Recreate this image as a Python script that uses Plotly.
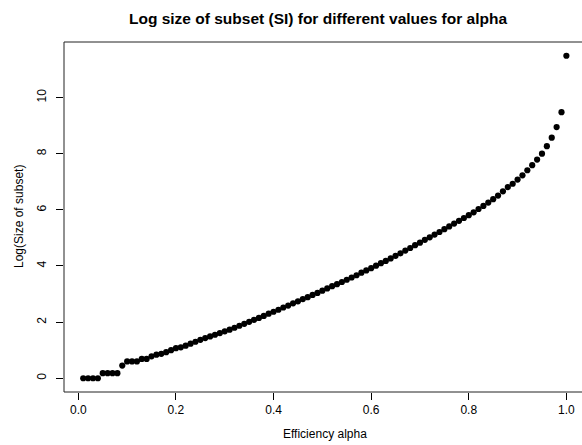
import plotly.graph_objects as go

# Efficiency alpha values (0.01 .. 1.00)
alpha = [round(0.01 * i, 2) for i in range(1, 101)]

# Log(size of subset) for each alpha
log_size = [
    0.00, 0.00, 0.00, 0.00, 0.18, 0.18, 0.18, 0.18, 0.45, 0.60,
    0.60, 0.60, 0.69, 0.69, 0.78, 0.84, 0.87, 0.93, 1.00, 1.07,
    1.10, 1.16, 1.23, 1.30, 1.37, 1.43, 1.49, 1.55, 1.61, 1.67,
    1.73, 1.80, 1.87, 1.94, 2.01, 2.08, 2.15, 2.22, 2.30, 2.37,
    2.44, 2.52, 2.59, 2.67, 2.74, 2.82, 2.89, 2.97, 3.04, 3.12,
    3.20, 3.28, 3.35, 3.43, 3.51, 3.59, 3.67, 3.76, 3.84, 3.92,
    4.01, 4.10, 4.18, 4.27, 4.36, 4.45, 4.55, 4.64, 4.74, 4.83,
    4.93, 5.02, 5.12, 5.21, 5.31, 5.41, 5.51, 5.61, 5.71, 5.81,
    5.91, 6.03, 6.14, 6.26, 6.38, 6.51, 6.66, 6.81, 6.93, 7.08,
    7.23, 7.41, 7.59, 7.79, 8.00, 8.27, 8.57, 8.95, 9.48, 11.49,
]

x_ticks = [0.0, 0.2, 0.4, 0.6, 0.8, 1.0]
x_tick_text = ["0.0", "0.2", "0.4", "0.6", "0.8", "1.0"]
y_ticks = [0, 2, 4, 6, 8, 10]
y_tick_text = ["0", "2", "4", "6", "8", "10"]

FONT = "Liberation Sans, Arial, Helvetica, sans-serif"

fig = go.Figure()
fig.add_trace(go.Scatter(
    x=alpha, y=log_size, mode="markers",
    marker=dict(color="black", size=6.2, line=dict(width=0)),
    hoverinfo="x+y", showlegend=False,
))

W, H = 582, 445
L, R, T, B = 64, 0, 42, 53
pw, ph = W - L - R, H - T - B

fig.update_layout(
    width=W, height=H,
    margin=dict(l=L, r=R, t=T, b=B, pad=0),
    paper_bgcolor="white", plot_bgcolor="white",
    font=dict(family=FONT, size=12, color="black"),
    title=dict(
        text="<b>Log size of subset (SI) for different values for alpha</b>",
        x=318 / W, xanchor="center", xref="container",
        y=1 - 19 / H, yanchor="middle", yref="container",
        font=dict(family=FONT, size=15.5, color="black"),
    ),
    xaxis=dict(
        range=[-0.0294, 1.032], showgrid=False, zeroline=False, showline=False,
        tickmode="array", tickvals=x_ticks, ticktext=x_tick_text,
        ticks="outside", ticklen=7, tickwidth=1, tickcolor="black",
        tickfont=dict(family=FONT, size=12, color="black"),
        ticklabelstandoff=0,
    ),
    yaxis=dict(
        range=[-0.49, 11.98], showgrid=False, zeroline=False, showline=False,
        tickmode="array", tickvals=y_ticks, ticktext=y_tick_text,
        ticks="outside", ticklen=7, tickwidth=1, tickcolor="black",
        tickangle=-90,
        tickfont=dict(family=FONT, size=12, color="black"),
        ticklabelstandoff=5,
    ),
    shapes=[
        # plot frame (left, top, bottom edges; right edge falls past the page)
        dict(type="rect", xref="paper", yref="paper", x0=0, x1=1.01, y0=0, y1=1,
             line=dict(color="#222222", width=1), fillcolor="rgba(0,0,0,0)",
             layer="above"),
    ],
    annotations=[
        dict(text="Efficiency alpha", xref="paper", yref="paper",
             x=(325 - L) / pw, y=-(434 - (T + ph)) / ph,
             xanchor="center", yanchor="middle", showarrow=False,
             font=dict(family=FONT, size=12, color="black")),
        dict(text="Log(Size of subset)", xref="paper", yref="paper",
             x=-(L - 19) / pw, y=0.5 - (217 - (T + ph / 2)) / ph,
             xanchor="center", yanchor="middle", textangle=-90, showarrow=False,
             font=dict(family=FONT, size=12, color="black")),
    ],
)

fig.write_html("out.html")
